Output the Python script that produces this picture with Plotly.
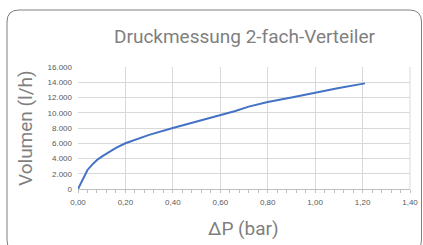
import plotly.graph_objects as go

dp_bar = [0.0, 0.02, 0.04, 0.06, 0.08, 0.10, 0.13, 0.16, 0.20, 0.25, 0.30, 0.40, 0.50, 0.60, 0.66, 0.72, 0.80, 0.90, 1.00, 1.10, 1.21]
volume_lh = [0, 1300, 2500, 3200, 3800, 4250, 4850, 5400, 6000, 6600, 7100, 8000, 8850, 9650, 10200, 10800, 11400, 12000, 12650, 13250, 13850]

title_text = "Druckmessung 2-fach-Verteiler"
x_title = "ΔP (bar)"
y_title = "Volumen (l/h)"

W, H = 423, 245
L, R, T, B = 78, 13, 67, 56
pw, ph = W - L - R, H - T - B

def px_x(p):
    return (p - L) / pw

def px_y(p):
    return 1 - (p - T) / ph

fig = go.Figure()
fig.add_trace(go.Scatter(x=dp_bar, y=volume_lh, mode="lines",
                         line=dict(color="#4472C4", width=2), hoverinfo="skip"))

axis_font = dict(family="Liberation Sans, Arial", size=8, color="#595959")
fig.update_xaxes(range=[0, 1.4], dtick=0.2, tickformat=".2f", showgrid=True,
                 gridcolor="#d9d9d9", gridwidth=1, showline=True, linecolor="#bfbfbf",
                 ticks="outside", ticklen=3, tickcolor="#bfbfbf", tickfont=axis_font, zeroline=False,
                 minor=dict(dtick=0.04, ticks="outside", ticklen=3, tickcolor="#bfbfbf", showgrid=False),
                 ticklabelstandoff=2, fixedrange=True)
fig.update_yaxes(range=[0, 16000], dtick=2000, tickformat=",d", showgrid=True,
                 gridcolor="#d9d9d9", gridwidth=1, showline=False, zeroline=False,
                 tickfont=axis_font, ticks="", ticklabelstandoff=5, fixedrange=True)

fig.add_shape(type="line", xref="paper", yref="paper", x0=1, x1=1, y0=0, y1=1,
              line=dict(color="#d9d9d9", width=1))

# outer rounded frame
x0, x1 = px_x(7), px_x(421.5)
y0, y1 = px_y(252), px_y(10)
rx = 12 / pw
ry = 12 / ph
path = (f"M {x0+rx},{y1} L {x1-rx},{y1} Q {x1},{y1} {x1},{y1-ry} "
        f"L {x1},{y0+ry} Q {x1},{y0} {x1-rx},{y0} L {x0+rx},{y0} "
        f"Q {x0},{y0} {x0},{y0+ry} L {x0},{y1-ry} Q {x0},{y1} {x0+rx},{y1} Z")
fig.add_shape(type="path", xref="paper", yref="paper", path=path,
              line=dict(color="#7f7f7f", width=1), fillcolor="rgba(0,0,0,0)")

title_font = dict(family="Roboto", size=19, color="#7f7f7f")
fig.add_annotation(text=title_text, xref="paper", yref="paper", x=px_x(244), y=px_y(37),
                   xanchor="center", yanchor="middle", showarrow=False, font=title_font)
fig.add_annotation(text=x_title, xref="paper", yref="paper", x=px_x(243), y=px_y(228),
                   xanchor="center", yanchor="middle", showarrow=False, font=title_font)
fig.add_annotation(text=y_title, xref="paper", yref="paper", x=px_x(25), y=px_y(128),
                   xanchor="center", yanchor="middle", showarrow=False, textangle=-90,
                   font=title_font)

fig.update_layout(width=W, height=H, margin=dict(l=L, r=R, t=T, b=B, autoexpand=False),
                  paper_bgcolor="white", plot_bgcolor="white", showlegend=False,
                  separators=",.")

fig.write_html("out.html", config={"displayModeBar": False, "staticPlot": True},
               post_script="document.body.style.margin='0';document.body.style.overflow='hidden';")
